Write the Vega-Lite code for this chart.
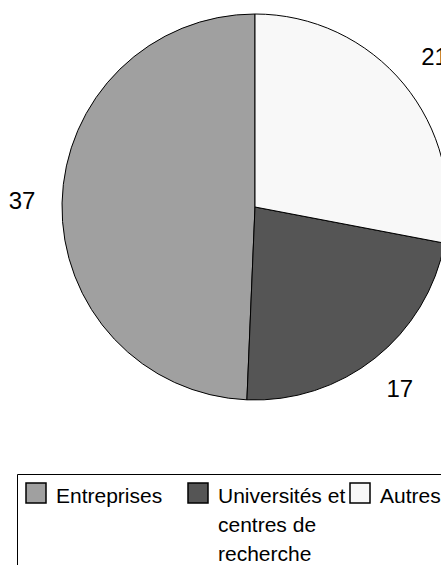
{
  "$schema": "https://vega.github.io/schema/vega-lite/v6.json",
  "autosize": {"type": "none"},
  "width": 510,
  "height": 414,
  "padding": {"left": 0, "top": 0, "right": -69, "bottom": 151},
  "background": "white",
  "data": {
    "values": [
      {"categorie": "Entreprises", "valeur": 37, "ordre": 3},
      {"categorie": "Universités et centres de recherche", "valeur": 17, "ordre": 2},
      {"categorie": "Autres", "valeur": 21, "ordre": 1}
    ]
  },
  "encoding": {
    "theta": {"field": "valeur", "type": "quantitative", "stack": true},
    "order": {"field": "ordre", "type": "quantitative"}
  },
  "layer": [
    {
      "mark": {"type": "arc", "outerRadius": 193, "stroke": "black", "strokeWidth": 1},
      "encoding": {
        "color": {
          "field": "categorie",
          "type": "nominal",
          "scale": {
            "domain": ["Entreprises", "Universités et centres de recherche", "Autres"],
            "range": ["#a0a0a0", "#555555", "#f8f8f8"]
          },
          "legend": {
            "title": null,
            "orient": "none",
            "legendX": 17,
            "legendY": 474,
            "direction": "horizontal",
            "columns": 3,
            "gridAlign": "all",
            "columnPadding": 1,
            "padding": 8,
            "strokeColor": "black",
            "fillColor": "white",
            "symbolType": "square",
            "symbolSize": 400,
            "symbolStrokeColor": "black",
            "symbolStrokeWidth": 1.5,
            "labelFont": "Liberation Sans",
            "labelFontSize": 21,
            "labelColor": "black",
            "labelOffset": 9,
            "labelLimit": 300,
            "labelBaseline": "top",
            "labelExpr": "datum.label == 'Universités et centres de recherche' ? ['Universités et', 'centres de', 'recherche'] : [datum.label, '', '']"
          }
        }
      }
    },
    {
      "mark": {"type": "text", "radius": 233, "font": "Liberation Sans", "fontSize": 24, "color": "black"},
      "encoding": {
        "text": {"field": "valeur", "type": "quantitative"}
      }
    }
  ],
  "config": {
    "view": {"stroke": null},
    "style": {"guide-label": {"lineHeight": 29, "dy": -7}}
  }
}
